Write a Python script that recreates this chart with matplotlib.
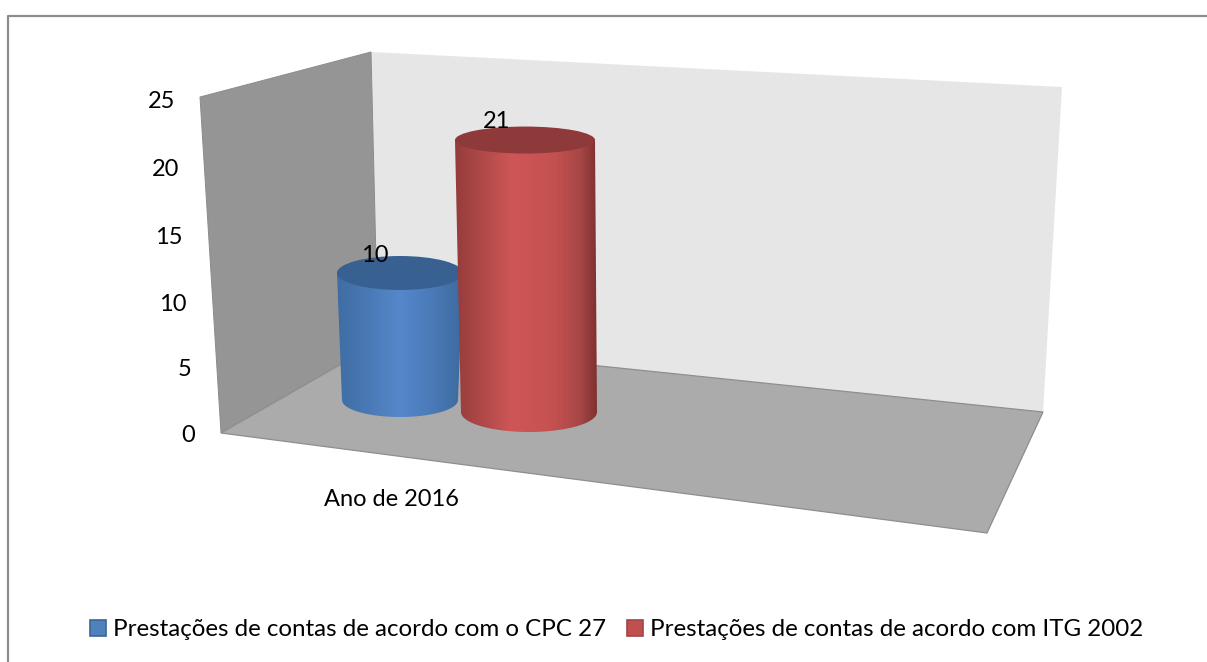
import matplotlib
matplotlib.use("Agg")
import matplotlib.pyplot as plt
import numpy as np
from matplotlib.patches import Polygon, Ellipse, PathPatch, Patch
from matplotlib.path import Path
from matplotlib.colors import LinearSegmentedColormap

# ----------------------------------
# Data
# ----------------------------------
category = "Ano de 2016"
series_names = ["Prestações de contas de acordo com o CPC 27",
                "Prestações de contas de acordo com ITG 2002"]
values = [10, 21]
y_ticks = [0, 5, 10, 15, 20, 25]

plt.rcParams['font.family'] = ['Lato', 'DejaVu Sans']
W, H = 1207, 662
fig = plt.figure(figsize=(W / 100, H / 100), dpi=100)
ax = fig.add_axes([0, 0, 1, 1])
ax.set_xlim(0, W)
ax.set_ylim(H, 0)
ax.axis("off")

# ----------------------------------
# Fake 3D box (picture pixels)
# ----------------------------------
back_left_top, back_right_top = (371, 52), (1062, 87)
back_right_bot, back_left_bot = (1043, 412), (378, 343)
front_left_top, front_left_bot = (200, 97), (221, 433)
front_right_bot = (987, 533)

ax.add_patch(Polygon([back_left_top, back_right_top, back_right_bot, back_left_bot],
                     fc="#e6e6e6", ec="none", zorder=1))
ax.add_patch(Polygon([front_left_top, back_left_top, back_left_bot, front_left_bot],
                     fc="#959595", ec="#8c8c8c", lw=0.7, zorder=2))
ax.add_patch(Polygon([front_left_bot, back_left_bot, back_right_bot, front_right_bot],
                     fc="#ababab", ec="#8e8e8e", lw=0.9, zorder=2))

# outer border, open at right and bottom
ax.plot([8, 8, W], [H, 16, 16], color="#8c8c8c", lw=1.6, zorder=1)

# value axis follows the slanted wall edge, with a little perspective
for t in y_ticks:
    ax.text(195 - 0.8 * t, 435 - 12.91 * t - 0.018 * t ** 2, str(t),
            ha="right", va="center", fontsize=17, color="black")

# ----------------------------------
# Cylinders
# ----------------------------------
def cylinder(value, base, top_shape, px_per_unit, colors, top_color, z):
    cx0, cy0, a0, b0 = base
    cx1, a1, b1 = top_shape
    cy1 = cy0 - value * px_per_unit

    t = np.linspace(0, np.pi, 60)
    bottom_arc = np.column_stack([cx0 + a0 * np.cos(t), cy0 + b0 * np.sin(t)])
    verts = np.vstack([[(cx1 + a1, cy1)], bottom_arc, [(cx1 - a1, cy1)], [(cx1 + a1, cy1)]])
    clip = PathPatch(Path(verts), transform=ax.transData, fc="none", ec="none")
    ax.add_patch(clip)

    cmap = LinearSegmentedColormap.from_list("shade", colors)
    grad = np.linspace(0, 1, 256).reshape(1, -1)
    im = ax.imshow(grad, cmap=cmap, aspect="auto", zorder=z,
                   extent=[min(cx0 - a0, cx1 - a1), max(cx0 + a0, cx1 + a1), cy0 + b0, cy1])
    im.set_clip_path(clip)
    ax.add_patch(Ellipse((cx1, cy1), 2 * a1, 2 * b1, fc=top_color, ec="none", zorder=z + 0.1))
    return cx1, cy1 - b1

blue_shade = [(0, "#3f6da3"), (0.25, "#4a7ab5"), (0.5, "#5587cb"), (0.75, "#4a7bb8"), (1, "#3d6a9f")]
red_shade = [(0, "#963c3b"), (0.2, "#b04a49"), (0.4, "#cf5656"), (0.7, "#c45150"), (0.88, "#a84746"), (1, "#7f3130")]

bx, by = cylinder(values[0], (400, 400, 58, 17), (400, 63, 17), 12.7,
                  blue_shade, "#386090", 3)
rx, ry = cylinder(values[1], (529, 412, 68, 20), (525, 70, 13.5), 12.95,
                  red_shade, "#8f3a3a", 4)

ax.text(bx - 25, by, str(values[0]), ha="center", va="center", fontsize=17, color="black", zorder=6)
ax.text(rx - 28, ry - 5, str(values[1]), ha="center", va="center", fontsize=17, color="black", zorder=6)

ax.text(391, 500, category, ha="center", va="center", fontsize=17, color="black")

# ----------------------------------
# Legend
# ----------------------------------
handles = [Patch(fc="#4f81bd", ec="#3a6595", lw=1.2),
           Patch(fc="#c0504d", ec="#a04644", lw=1.2)]
ax.legend(handles, series_names, ncol=2, loc="center", bbox_to_anchor=(616.5, 630),
          bbox_transform=ax.transData, frameon=False, fontsize=17.4,
          handlelength=0.66, handleheight=0.66, handletextpad=0.29, columnspacing=0.87,
          borderpad=0, labelcolor="black")

fig.savefig("out.png", dpi=100, facecolor="white")
